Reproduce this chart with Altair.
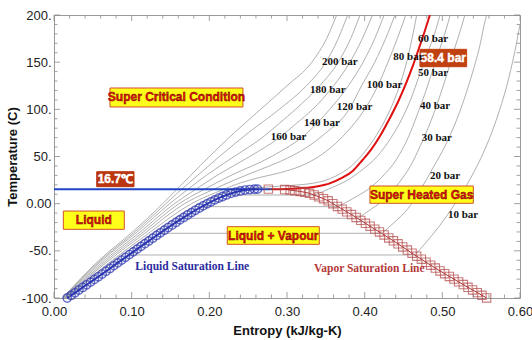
import altair as alt
import pandas as pd

# ---------------- isobars (temperature in C, entropy in kJ/kg-K) ----------------
T200 = [-100, -60, -30, 0, 15, 30, 50, 75, 100, 125, 150, 175, 200]
S200 = [0.011, 0.058, 0.101, 0.140, 0.158, 0.176, 0.200, 0.232, 0.266, 0.300, 0.332, 0.351, 0.364]
T180 = [-100, -60, -30, 0, 15, 30, 50, 75, 100, 125, 150, 175, 200]
S180 = [0.011, 0.060, 0.104, 0.144, 0.164, 0.185, 0.213, 0.250, 0.290, 0.325, 0.350, 0.366, 0.378]
T160 = [-100, -60, -30, 0, 15, 30, 50, 70, 85, 100, 125, 150, 175, 200]
S160 = [0.012, 0.062, 0.107, 0.149, 0.172, 0.196, 0.232, 0.268, 0.290, 0.311, 0.342, 0.366, 0.382, 0.394]
T140 = [-100, -60, -30, 0, 15, 30, 50, 70, 85, 100, 125, 150, 175, 200]
S140 = [0.012, 0.065, 0.111, 0.155, 0.182, 0.210, 0.252, 0.290, 0.312, 0.333, 0.360, 0.381, 0.397, 0.410]
T120 = [-100, -60, -30, 0, 15, 30, 50, 75, 100, 125, 150, 175, 200]
S120 = [0.013, 0.068, 0.115, 0.161, 0.193, 0.228, 0.280, 0.326, 0.355, 0.379, 0.398, 0.413, 0.425]
T100 = [-100, -60, -30, 0, 15, 25, 35, 45, 60, 75, 100, 125, 150, 175, 200]
S100 = [0.013, 0.071, 0.119, 0.168, 0.205, 0.232, 0.262, 0.292, 0.326, 0.350, 0.380, 0.396, 0.413, 0.427, 0.439]
T80 = [-100, -60, -30, 0, 15, 22, 28, 33, 40, 50, 75, 100, 125, 150, 175, 200]
S80 = [0.014, 0.075, 0.124, 0.177, 0.218, 0.240, 0.266, 0.292, 0.318, 0.341, 0.376, 0.400, 0.417, 0.430, 0.442, 0.453]
T60 = [-100, -60, -30, 0, 10, 15, 17, 18.5, 20, 22, 26, 32, 40, 50, 75, 100, 125, 150, 175, 200]
S60 = [0.015, 0.079, 0.130, 0.187, 0.215, 0.235, 0.262, 0.290, 0.316, 0.336, 0.354, 0.369, 0.383, 0.395, 0.417, 0.433, 0.445, 0.454, 0.461, 0.467]
T50 = [9.2, 17, 25, 36, 50, 70, 90, 112, 135, 160, 180, 200]
S50 = [0.335, 0.358, 0.378, 0.397, 0.416, 0.434, 0.448, 0.460, 0.470, 0.481, 0.490, 0.497]
T40 = [-3.2, 6, 15, 28, 47, 70, 95, 120, 145, 165, 185, 200]
S40 = [0.366, 0.386, 0.404, 0.422, 0.441, 0.456, 0.468, 0.479, 0.489, 0.497, 0.505, 0.510]
T30 = [-15.5, -6, 5, 22, 40, 62, 87, 112, 140, 165, 183, 200]
S30 = [0.391, 0.408, 0.426, 0.444, 0.459, 0.472, 0.485, 0.496, 0.507, 0.516, 0.523, 0.529]
T20 = [-31.4, -20, -5, 15, 38, 62, 90, 118, 145, 170, 190, 200]
S20 = [0.422, 0.438, 0.456, 0.472, 0.488, 0.504, 0.519, 0.531, 0.541, 0.549, 0.554, 0.557]
T10 = [-54.4, -42, -25, -3, 25, 58, 90, 125, 160, 190]
S10 = [0.465, 0.478, 0.495, 0.514, 0.535, 0.555, 0.570, 0.583, 0.593, 0.600]

# critical isobar 58.4 bar (red)
T584 = [15.2, 15.6, 16.5, 18.5, 21.5, 27, 35, 46, 57, 72, 90, 108, 127, 146, 165, 182, 200]
S584 = [0.281, 0.300, 0.320, 0.340, 0.355, 0.370, 0.385, 0.397, 0.408, 0.420, 0.432, 0.443, 0.453, 0.462, 0.470, 0.477, 0.484]

# two-phase (horizontal) parts of the sub-critical isobars
TP_T = [9.2, -3.2, -15.5, -31.4, -54.4]
TP_SL = [0.222, 0.191, 0.165, 0.136, 0.096]
TP_SV = [0.335, 0.366, 0.391, 0.422, 0.465]

# critical temperature line
CRIT_T = [15.2]
CRIT_S0 = [0.0]
CRIT_S1 = [0.281]

# liquid saturation line (circles)
LIQ_S = [0.017, 0.022, 0.027, 0.032, 0.037, 0.042, 0.047, 0.052, 0.057, 0.062, 0.067, 0.072,
         0.077, 0.082, 0.087, 0.092, 0.097, 0.102, 0.107, 0.112, 0.117, 0.122, 0.127, 0.132,
         0.137, 0.142, 0.147, 0.152, 0.157, 0.162, 0.167, 0.172, 0.177, 0.182, 0.187, 0.192,
         0.197, 0.202, 0.207, 0.212, 0.217, 0.222, 0.228, 0.234, 0.240, 0.246, 0.252, 0.258, 0.262]
LIQ_T = [-100, -97.3, -94.5, -91.6, -88.8, -86.0, -83.2, -80.3, -77.5, -74.6, -71.6, -68.7,
         -65.7, -62.8, -59.8, -56.9, -54.0, -51.1, -48.2, -45.3, -42.4, -39.5, -36.6, -33.7,
         -30.9, -28.1, -25.3, -22.6, -19.9, -17.2, -14.6, -12.0, -9.5, -7.0, -4.6, -2.3,
         -0.1, 2.0, 4.0, 5.9, 7.6, 9.2, 10.9, 12.3, 13.5, 14.4, 15.0, 15.3, 15.4]

# vapor saturation line (squares)
VAP_S = [0.276, 0.297, 0.304, 0.310, 0.317, 0.323, 0.329, 0.335, 0.341, 0.347, 0.353, 0.359,
         0.365, 0.371, 0.377, 0.383, 0.389, 0.395, 0.401, 0.407, 0.413, 0.419, 0.425, 0.431,
         0.437, 0.443, 0.449, 0.455, 0.461, 0.467, 0.473, 0.479, 0.485, 0.491, 0.497, 0.503,
         0.509, 0.515, 0.521, 0.527, 0.533, 0.539, 0.545, 0.551, 0.557]
VAP_T = [15.4, 15.0, 14.4, 13.8, 13.0, 12.0, 11.0, 9.2, 7.2, 5.3, 3.0, 0.0,
         -2.9, -5.8, -8.7, -11.5, -14.6, -17.7, -20.8, -23.9, -27.0, -30.0, -33.2, -36.3,
         -39.4, -42.6, -45.9, -49.2, -52.5, -55.7, -58.9, -62.1, -65.2, -68.3, -71.3, -74.2,
         -77.1, -80.0, -82.9, -85.8, -88.7, -91.5, -94.3, -97.1, -99.9]

# isobar labels
LAB_TEXT = ["200 bar", "180 bar", "160 bar", "140 bar", "120 bar", "100 bar", "80 bar",
            "60 bar", "50 bar", "40 bar", "30 bar", "20 bar", "10 bar"]
LAB_S = [0.345, 0.3296, 0.279, 0.3219, 0.364, 0.4026, 0.4369, 0.4686, 0.4686, 0.4712, 0.4734, 0.4841, 0.5073]
LAB_T = [150.2, 120.5, 70.3, 85.2, 102.8, 125.8, 155.2, 174.2, 138.8, 103.8, 69.9, 29.5, -12.0]

# region boxes
BOX_TEXT = ["Super Critical Condition", "Liquid", "Liquid + Vapour", "Super Heated Gas", "16.7\u2103", "58.4 bar"]
BOX_S1 = [0.0721, 0.012, 0.2231, 0.4068, 0.055, 0.4712]
BOX_S2 = [0.2433, 0.0905, 0.3416, 0.5399, 0.103, 0.5313]
BOX_T1 = [102.5, -27.2, -43.1, 0.4, 18.0, 145.2]
BOX_T2 = [122.6, -7.8, -24.4, 18.7, 33.9, 163.6]
BOX_FILL = ["#ffff1a", "#ffff1a", "#ffff1a", "#ffff1a", "#bb3510", "#c0400f"]
BOX_EDGE = ["#d0502a", "#d0502a", "#d0502a", "#d0502a", "#bb3510", "#c0400f"]
BOX_INK = ["#ee1111", "#ee1111", "#ee1111", "#ee1111", "#ffffff", "#ffffff"]
BOX_LINE = ["#5a0000", "#5a0000", "#5a0000", "#5a0000", "#ffffff", "#ffffff"]

# saturation line names
SAT_TEXT = ["Liquid Saturation Line", "Vapor Saturation Line"]
SAT_S = [0.178, 0.406]
SAT_T = [-66.9, -69.6]
SAT_COLOR = ["#2b2ba0", "#b53a3a"]

X_LABELS = [0.0, 0.1, 0.2, 0.3, 0.4, 0.5, 0.6]
Y_LABELS = [-100, -50, 0, 50, 100, 150, 200]

# ---------------- tables ----------------
iso_sets = [("200", T200, S200), ("180", T180, S180), ("160", T160, S160), ("140", T140, S140),
            ("120", T120, S120), ("100", T100, S100), ("80", T80, S80), ("60", T60, S60),
            ("50", T50, S50), ("40", T40, S40), ("30", T30, S30), ("20", T20, S20), ("10", T10, S10)]
iso_df = pd.DataFrame([{"p": p, "T": t, "s": s} for p, Ts, Ss in iso_sets for t, s in zip(Ts, Ss)])
red_df = pd.DataFrame({"s": S584, "T": T584})
tp_df = pd.DataFrame({"T": TP_T, "s": TP_SL, "s2": TP_SV})
crit_df = pd.DataFrame({"T": CRIT_T, "s": CRIT_S0, "s2": CRIT_S1})
liq_df = pd.DataFrame({"s": LIQ_S, "T": LIQ_T})
vap_df = pd.DataFrame({"s": VAP_S, "T": VAP_T})
lab_df = pd.DataFrame({"txt": LAB_TEXT, "s": LAB_S, "T": LAB_T})
box_df = pd.DataFrame({"txt": BOX_TEXT, "s": BOX_S1, "s2": BOX_S2, "T": BOX_T1, "T2": BOX_T2,
                       "fill": BOX_FILL, "edge": BOX_EDGE, "ink": BOX_INK, "line": BOX_LINE})
box_df["sc"] = (box_df["s"] + box_df["s2"]) / 2
box_df["Tc"] = (box_df["T"] + box_df["T2"]) / 2
sat_df = pd.DataFrame({"txt": SAT_TEXT, "s": SAT_S, "T": SAT_T, "c": SAT_COLOR})

W, H = 466, 283
XMIN, XMAX, YMIN, YMAX = 0.0, 0.6, -100.0, 200.0
xs = alt.Scale(domain=[XMIN, XMAX], nice=False, zero=False)
ys = alt.Scale(domain=[YMIN, YMAX], nice=False, zero=False)

xaxis = alt.Axis(values=X_LABELS, format=".2f", title="Entropy (kJ/kg-K)", ticks=False, domain=False,
                 grid=False, labelFont="Liberation Sans", labelFontSize=13, labelColor="#222",
                 labelPadding=7, labelFlush=False, titleFont="Liberation Sans", titleFontSize=13,
                 titleFontWeight="bold", titleColor="#111", titleY=32, titleBaseline="middle")
yaxis = alt.Axis(values=Y_LABELS, labelExpr="datum.value == 0 ? '0.00' : datum.value + '.'",
                 title="Temperature (C)", ticks=False, domain=False, grid=False,
                 labelFont="Liberation Sans", labelFontSize=13, labelColor="#222", labelPadding=3,
                 labelFlush=False, titleFont="Liberation Sans", titleFontSize=13, titleFontWeight="bold",
                 titleColor="#111", titleX=-42, titleY=H / 2, titleBaseline="middle", titleAlign="center")


def XF(f):
    return alt.X(f, scale=xs, axis=xaxis)


def YF(f):
    return alt.Y(f, scale=ys, axis=yaxis)


iso_layer = alt.Chart(iso_df).mark_line(color="#9c9c9c", strokeWidth=0.8, interpolate="monotone", clip=True).encode(
    x=XF("s:Q"), y=YF("T:Q"), detail="p:N")
tp_layer = alt.Chart(tp_df).mark_rule(color="#9c9c9c", strokeWidth=0.8).encode(x=XF("s:Q"), x2="s2:Q", y=YF("T:Q"))
crit_layer = alt.Chart(crit_df).mark_rule(color="#1f45c4", strokeWidth=2).encode(x=XF("s:Q"), x2="s2:Q", y=YF("T:Q"))
red_layer = alt.Chart(red_df).mark_line(color="#e01010", strokeWidth=2, interpolate="monotone", clip=True).encode(
    x=XF("s:Q"), y=YF("T:Q"))
vap_line = alt.Chart(vap_df).mark_line(color="#a83030", strokeWidth=1).encode(x=XF("s:Q"), y=YF("T:Q"))
vap_pts = alt.Chart(vap_df).mark_point(shape="square", filled=False, color="#b34545", size=70,
                                       strokeWidth=1.1).encode(x=XF("s:Q"), y=YF("T:Q"))
liq_line = alt.Chart(liq_df).mark_line(color="#2a35b0", strokeWidth=2).encode(x=XF("s:Q"), y=YF("T:Q"))
liq_pts = alt.Chart(liq_df).mark_point(shape="circle", filled=False, color="#2a35b0", size=70,
                                       strokeWidth=1.4).encode(x=XF("s:Q"), y=YF("T:Q"))

box_layer = alt.Chart(box_df).mark_rect(strokeWidth=1).encode(
    x=XF("s:Q"), x2="s2:Q", y=YF("T:Q"), y2="T2:Q",
    fill=alt.Fill("fill:N", scale=None), stroke=alt.Stroke("edge:N", scale=None))
box_text = alt.Chart(box_df).mark_text(font="Liberation Sans Narrow, Liberation Sans", fontWeight="bold",
                                       fontSize=12, strokeWidth=0.4, baseline="middle", align="center").encode(
    x=XF("sc:Q"), y=YF("Tc:Q"), text="txt:N",
    color=alt.Color("ink:N", scale=None), stroke=alt.Stroke("line:N", scale=None))

lab_layer = alt.Chart(lab_df).mark_text(font="Liberation Serif", fontWeight="bold", fontSize=11,
                                        color="#111", align="left", baseline="middle").encode(
    x=XF("s:Q"), y=YF("T:Q"), text="txt:N")
sat_layer = alt.Chart(sat_df).mark_text(font="Liberation Serif", fontWeight="bold", fontSize=11.5,
                                        align="center", baseline="middle").encode(
    x=XF("s:Q"), y=YF("T:Q"), text="txt:N", color=alt.Color("c:N", scale=None))

# inward frame ticks (lengths in pixels converted to data units)
XT = [round(0.02 * i, 2) for i in range(31)]
YT = list(range(-100, 201, 10))
px_x = (XMAX - XMIN) / W
px_y = (YMAX - YMIN) / H
xt_df = pd.DataFrame({"v": XT, "L": [6 if round(v * 100) % 10 == 0 else 3.5 for v in XT]})
yt_df = pd.DataFrame({"v": YT, "L": [6 if v % 50 == 0 else 3.5 for v in YT]})
xt_df["bot0"] = YMIN
xt_df["bot1"] = YMIN + xt_df["L"] * px_y
xt_df["top0"] = YMAX
xt_df["top1"] = YMAX - xt_df["L"] * px_y
yt_df["l0"] = XMIN
yt_df["l1"] = XMIN + yt_df["L"] * px_x
yt_df["r0"] = XMAX
yt_df["r1"] = XMAX - yt_df["L"] * px_x
tick_col = "#8a8a8a"
t_bottom = alt.Chart(xt_df).mark_rule(color=tick_col, strokeWidth=0.8).encode(
    x=XF("v:Q"), y=YF("bot0:Q"), y2="bot1:Q")
t_top = alt.Chart(xt_df).mark_rule(color=tick_col, strokeWidth=0.8).encode(
    x=XF("v:Q"), y=YF("top0:Q"), y2="top1:Q")
t_left = alt.Chart(yt_df).mark_rule(color=tick_col, strokeWidth=0.8).encode(
    y=YF("v:Q"), x=XF("l0:Q"), x2="l1:Q")
t_right = alt.Chart(yt_df).mark_rule(color=tick_col, strokeWidth=0.8).encode(
    y=YF("v:Q"), x=XF("r0:Q"), x2="r1:Q")

chart = alt.layer(
    iso_layer, tp_layer, red_layer, crit_layer, vap_line, vap_pts, liq_line, liq_pts,
    box_layer, box_text, lab_layer, sat_layer, t_bottom, t_top, t_left, t_right
).properties(
    width=W, height=H,
    padding={"left": 54, "top": 15, "right": 12, "bottom": 42},
    autosize=alt.AutoSizeParams(type="none"),
    background="white",
).configure_view(stroke="#9a9a9a", strokeWidth=1)

chart.save("out.html", embed_options={"renderer": "svg", "actions": False})
